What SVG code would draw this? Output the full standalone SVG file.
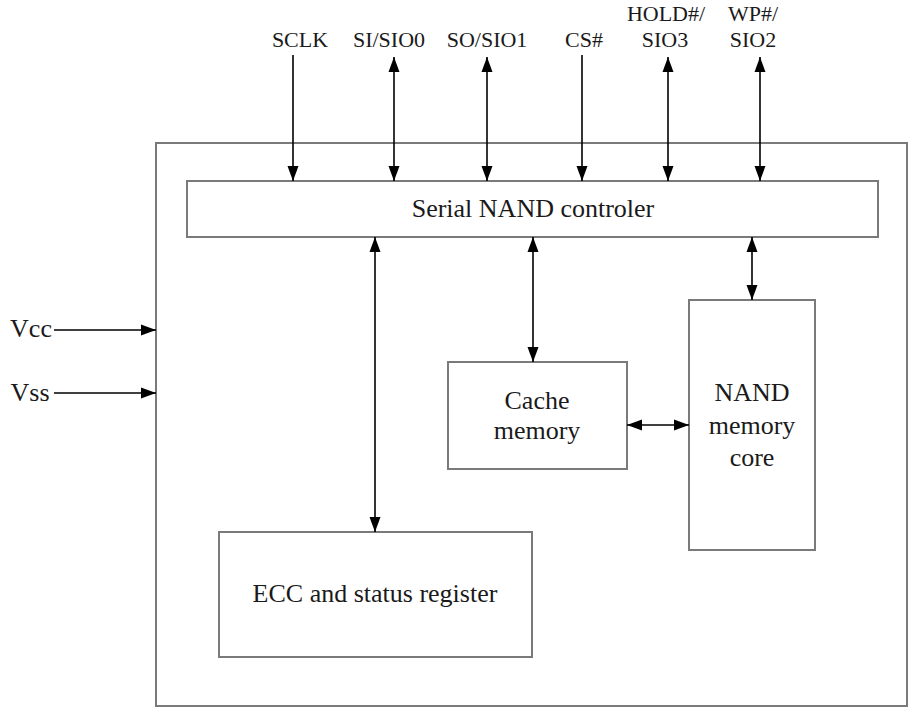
<svg xmlns="http://www.w3.org/2000/svg" width="909" height="709" viewBox="0 0 909 709">
<defs>
<marker id="ah" markerUnits="userSpaceOnUse" markerWidth="16" markerHeight="12" refX="15" refY="6" orient="auto-start-reverse" viewBox="0 0 16 12">
<path d="M0,0.5 L15,6 L0,11.5 z" fill="#000"/>
</marker>
</defs>
<style>
.box{fill:#fff;stroke:#7a7a7a;stroke-width:2}
.t{font-family:"Liberation Serif","Times New Roman",serif;fill:#1a1a1a;text-anchor:middle}
.big{font-size:26px}
.pin{font-size:22px}
.c{stroke:#000;stroke-width:1.6;fill:none}
.e{marker-end:url(#ah)}
.b{marker-start:url(#ah);marker-end:url(#ah)}
</style>
<rect width="909" height="709" fill="#fff"/>
<g id="chip"><rect class="box" x="156" y="143" width="751" height="563"/></g>
<g id="controller"><rect class="box" x="187" y="181" width="691" height="56"/><text class="t big" x="533" y="217">Serial NAND controler</text></g>
<g id="ecc"><rect class="box" x="219" y="532" width="313" height="125"/><text class="t big" x="375" y="602">ECC and status register</text></g>
<g id="cache"><rect class="box" x="448" y="362" width="179" height="107"/><text class="t big" x="537" y="409">Cache</text><text class="t big" x="537" y="439">memory</text></g>
<g id="nand"><rect class="box" x="689" y="300" width="126" height="250"/><text class="t big" x="752" y="401">NAND</text><text class="t big" x="752" y="434">memory</text><text class="t big" x="752" y="466">core</text></g>
<g id="pins">
<text class="t pin" x="300" y="47">SCLK</text>
<text class="t pin" x="389" y="47">SI/SIO0</text>
<text class="t pin" x="487" y="47">SO/SIO1</text>
<text class="t pin" x="584" y="47">CS#</text>
<text class="t pin" x="666" y="21">HOLD#/</text>
<text class="t pin" x="665" y="47">SIO3</text>
<text class="t pin" x="753" y="21">WP#/</text>
<text class="t pin" x="753" y="47">SIO2</text>
<text class="t big" x="31" y="337">Vcc</text>
<text class="t big" x="30" y="401">Vss</text>
</g>
<g id="connectors">
<line class="c e" x1="293" y1="55" x2="293" y2="181"/>
<line class="c b" x1="394" y1="57" x2="394" y2="181"/>
<line class="c b" x1="487" y1="57" x2="487" y2="181"/>
<line class="c e" x1="582" y1="55" x2="582" y2="181"/>
<line class="c b" x1="668" y1="57" x2="668" y2="181"/>
<line class="c b" x1="760" y1="57" x2="760" y2="181"/>
<line class="c e" x1="54" y1="330" x2="156" y2="330"/>
<line class="c e" x1="54" y1="393" x2="156" y2="393"/>
<line class="c b" x1="375" y1="237" x2="375" y2="532"/>
<line class="c b" x1="533" y1="237" x2="533" y2="362"/>
<line class="c b" x1="752" y1="237" x2="752" y2="300"/>
<line class="c b" x1="627" y1="425" x2="689" y2="425"/>
</g>
</svg>
